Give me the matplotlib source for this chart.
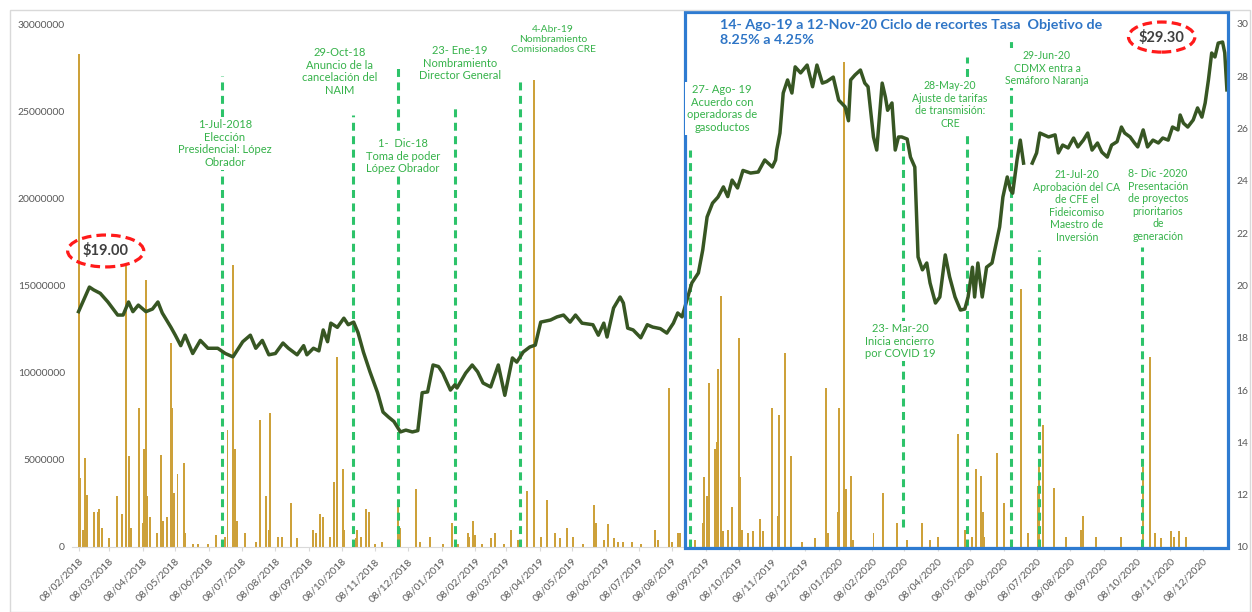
import matplotlib
matplotlib.use('Agg')
import matplotlib.pyplot as plt
import matplotlib.dates as mdates
from matplotlib.patches import Rectangle, Ellipse
import numpy as np
import pandas as pd

plt.rcParams['font.family'] = ['Lato', 'DejaVu Sans']

# precio (eje derecho)
price_dates = [
    '2018-02-08', '2018-02-18', '2018-02-22', '2018-02-28', '2018-03-07', '2018-03-16', '2018-03-21', '2018-03-26',
    '2018-03-30', '2018-04-04', '2018-04-11', '2018-04-17', '2018-04-22', '2018-04-26', '2018-05-04', '2018-05-08',
    '2018-05-13', '2018-05-17', '2018-05-24', '2018-05-31', '2018-06-07', '2018-06-16', '2018-06-23', '2018-06-30',
    '2018-07-09', '2018-07-16', '2018-07-21', '2018-07-27', '2018-08-02', '2018-08-08', '2018-08-15', '2018-08-20',
    '2018-08-28', '2018-09-03', '2018-09-06', '2018-09-12', '2018-09-17', '2018-09-21', '2018-09-25', '2018-09-28',
    '2018-10-04', '2018-10-10', '2018-10-14', '2018-10-19', '2018-10-23', '2018-10-28', '2018-11-03', '2018-11-10',
    '2018-11-15', '2018-11-20', '2018-11-25', '2018-12-01', '2018-12-06', '2018-12-12', '2018-12-17', '2018-12-21',
    '2018-12-26', '2018-12-31', '2019-01-05', '2019-01-09', '2019-01-11', '2019-01-16', '2019-01-20', '2019-01-22',
    '2019-01-30', '2019-02-05', '2019-02-10', '2019-02-15', '2019-02-22', '2019-03-01', '2019-03-07', '2019-03-14',
    '2019-03-18', '2019-03-24', '2019-03-30', '2019-04-04', '2019-04-09', '2019-04-18', '2019-04-24', '2019-04-30',
    '2019-05-06', '2019-05-11', '2019-05-17', '2019-05-27', '2019-06-01', '2019-06-06', '2019-06-09', '2019-06-15',
    '2019-06-21', '2019-06-24', '2019-06-28', '2019-07-03', '2019-07-10', '2019-07-16', '2019-07-21', '2019-07-28',
    '2019-08-03', '2019-08-09', '2019-08-13', '2019-08-17', '2019-08-22', '2019-08-26', '2019-09-01', '2019-09-05',
    '2019-09-09', '2019-09-14', '2019-09-19', '2019-09-24', '2019-09-28', '2019-10-02', '2019-10-07', '2019-10-12',
    '2019-10-19', '2019-10-26', '2019-11-01', '2019-11-08', '2019-11-11', '2019-11-12', '2019-11-15', '2019-11-18',
    '2019-11-22', '2019-11-26', '2019-11-29', '2019-12-04', '2019-12-10', '2019-12-15', '2019-12-19', '2019-12-24',
    '2019-12-28', '2020-01-03', '2020-01-08', '2020-01-14', '2020-01-17', '2020-01-19', '2020-01-23', '2020-01-28',
    '2020-02-01', '2020-02-04', '2020-02-09', '2020-02-12', '2020-02-17', '2020-02-20', '2020-02-22', '2020-02-26',
    '2020-02-29', '2020-03-03', '2020-03-06', '2020-03-11', '2020-03-14', '2020-03-18', '2020-03-21', '2020-03-25',
    '2020-03-29', '2020-04-01', '2020-04-06', '2020-04-10', '2020-04-15', '2020-04-19', '2020-04-24', '2020-04-29',
    '2020-05-03', '2020-05-06', '2020-05-10', '2020-05-12', '2020-05-15', '2020-05-19', '2020-05-23', '2020-05-28',
    '2020-06-02', '2020-06-04', '2020-06-07', '2020-06-11', '2020-06-14', '2020-06-16', '2020-06-20', '2020-06-23',
    '2020-06-26', '2020-06-30', '2020-07-04', '2020-07-08', '2020-07-11', '2020-07-19', '2020-07-25', '2020-07-28',
    '2020-08-01', '2020-08-06', '2020-08-11', '2020-08-15', '2020-08-20', '2020-08-24', '2020-08-28', '2020-09-02',
    '2020-09-06', '2020-09-11', '2020-09-15', '2020-09-20', '2020-09-24', '2020-09-27', '2020-10-02', '2020-10-06',
    '2020-10-09', '2020-10-14', '2020-10-18', '2020-10-23', '2020-10-28', '2020-11-01', '2020-11-06', '2020-11-10',
    '2020-11-15', '2020-11-17', '2020-11-20', '2020-11-24', '2020-11-29', '2020-12-03', '2020-12-07', '2020-12-10',
    '2020-12-13', '2020-12-16', '2020-12-19', '2020-12-22', '2020-12-26', '2020-12-28', '2020-12-30',
]
price_values = [
    19.0, 19.94, 19.83, 19.7, 19.37, 18.87, 18.87, 19.37,
    19.0, 19.25, 19.0, 19.1, 19.37, 18.95, 18.4, 18.1,
    17.7, 18.1, 17.4, 17.9, 17.6, 17.6, 17.4, 17.27,
    17.85, 18.1, 17.6, 17.9, 17.35, 17.4, 17.8, 17.6,
    17.35, 17.7, 17.35, 17.6, 17.5, 18.3, 17.85, 18.56,
    18.4, 18.75, 18.5, 18.6, 18.2, 17.45, 16.7, 15.9,
    15.16, 14.97, 14.8, 14.4, 14.47, 14.4, 14.45, 15.9,
    15.93, 16.96, 16.9, 16.65, 16.46, 16.0, 16.2, 16.08,
    16.65, 16.96, 16.7, 16.27, 16.12, 16.96, 15.8, 17.23,
    17.07, 17.46, 17.65, 17.72, 18.6, 18.68, 18.8, 18.87,
    18.6, 18.87, 18.56, 18.5, 18.1, 18.56, 18.03, 19.14,
    19.56, 19.33, 18.37, 18.3, 18.0, 18.5, 18.41, 18.35,
    18.18, 18.56, 18.95, 18.8, 19.52, 20.1, 20.48, 21.36,
    22.62, 23.15, 23.38, 23.77, 23.4, 24.03, 23.73, 24.4,
    24.3, 24.34, 24.8, 24.53, 24.8, 25.18, 25.83, 27.36,
    27.86, 27.36, 28.36, 28.13, 28.43, 27.6, 28.43, 27.74,
    27.8, 27.97, 27.09, 26.83, 26.3, 27.86, 28.05, 28.24,
    27.74, 27.6, 25.68, 25.18, 27.74, 27.2, 26.7, 26.98,
    25.18, 25.68, 25.68, 25.6, 24.91, 24.53, 21.09, 20.6,
    20.86, 20.1, 19.33, 19.56, 21.17, 20.33, 19.56, 19.06,
    19.1, 19.56, 20.7, 19.56, 20.86, 19.56, 20.7, 20.86,
    21.85, 22.24, 23.38, 24.15, 23.65, 23.53, 24.8, 25.56,
    24.68, np.nan, 24.68, 25.07, 25.83, 25.68, 25.76, 25.07,
    25.37, 25.26, 25.64, 25.3, 25.56, 25.83, 25.18, 25.45,
    25.1, 24.91, 25.37, 25.5, 26.06, 25.83, 25.68, 25.45,
    25.3, 25.95, 25.3, 25.56, 25.45, 25.64, 25.56, 26.06,
    25.95, 26.52, 26.21, 26.06, 26.33, 26.79, 26.44, 26.98,
    27.86, 28.89, 28.74, 29.27, 29.31, 28.9, 27.48,
]

# volumen (eje izquierdo), millones
vol_dates = [
    '2018-02-08', '2018-02-09', '2018-02-12', '2018-02-14', '2018-02-16', '2018-02-22', '2018-02-26', '2018-02-27',
    '2018-03-02', '2018-03-08', '2018-03-15', '2018-03-20', '2018-03-24', '2018-03-26', '2018-03-28', '2018-04-05',
    '2018-04-08', '2018-04-09', '2018-04-11', '2018-04-12', '2018-04-15', '2018-04-21', '2018-04-25', '2018-04-27',
    '2018-04-30', '2018-05-04', '2018-05-05', '2018-05-07', '2018-05-10', '2018-05-16', '2018-05-17', '2018-05-24',
    '2018-05-29', '2018-06-07', '2018-06-14', '2018-06-23', '2018-06-25', '2018-06-30', '2018-07-02', '2018-07-04',
    '2018-07-11', '2018-07-21', '2018-07-25', '2018-07-30', '2018-08-02', '2018-08-03', '2018-08-10', '2018-08-14',
    '2018-08-22', '2018-08-28', '2018-09-12', '2018-09-14', '2018-09-18', '2018-09-21', '2018-09-27', '2018-10-01',
    '2018-10-04', '2018-10-09', '2018-10-10', '2018-10-21', '2018-10-22', '2018-10-26', '2018-10-30', '2018-11-02',
    '2018-11-08', '2018-11-14', '2018-11-29', '2018-12-01', '2018-12-15', '2018-12-19', '2018-12-28', '2019-01-09',
    '2019-01-17', '2019-01-23', '2019-02-01', '2019-02-02', '2019-02-06', '2019-02-08', '2019-02-14', '2019-02-22',
    '2019-02-26', '2019-03-06', '2019-03-13', '2019-03-19', '2019-03-27', '2019-04-03', '2019-04-09', '2019-04-15',
    '2019-04-22', '2019-04-27', '2019-05-03', '2019-05-09', '2019-05-18', '2019-05-28', '2019-05-30', '2019-06-06',
    '2019-06-10', '2019-06-15', '2019-06-19', '2019-06-24', '2019-07-02', '2019-07-10', '2019-07-23', '2019-07-26',
    '2019-08-05', '2019-08-08', '2019-08-13', '2019-08-15', '2019-08-29', '2019-09-05', '2019-09-06', '2019-09-09',
    '2019-09-11', '2019-09-16', '2019-09-18', '2019-09-19', '2019-09-22', '2019-09-24', '2019-09-28', '2019-10-02',
    '2019-10-08', '2019-10-09', '2019-10-11', '2019-10-17', '2019-10-21', '2019-10-28', '2019-10-30', '2019-11-08',
    '2019-11-13', '2019-11-14', '2019-11-20', '2019-11-25', '2019-12-05', '2019-12-17', '2019-12-27', '2019-12-29',
    '2020-01-07', '2020-01-08', '2020-01-13', '2020-01-15', '2020-01-19', '2020-01-21', '2020-02-09', '2020-02-18',
    '2020-03-02', '2020-03-11', '2020-03-25', '2020-04-01', '2020-04-08', '2020-04-27', '2020-05-03', '2020-05-10',
    '2020-05-13', '2020-05-18', '2020-05-20', '2020-05-21', '2020-06-02', '2020-06-08', '2020-06-24', '2020-06-30',
    '2020-07-09', '2020-07-10', '2020-07-14', '2020-07-24', '2020-08-04', '2020-08-18', '2020-08-20', '2020-09-01',
    '2020-09-24', '2020-10-14', '2020-10-20', '2020-10-25', '2020-10-30', '2020-11-09', '2020-11-11', '2020-11-16',
    '2020-11-22',
]
vol_millions = [
    28.3, 3.96, 1.0, 5.1, 3.0, 2.0, 2.0, 2.2,
    1.1, 0.5, 2.9, 1.9, 16.3, 5.2, 1.1, 8.0,
    1.4, 5.6, 15.3, 2.9, 1.7, 0.8, 5.3, 1.5,
    1.7, 11.7, 8.0, 3.1, 4.2, 4.8, 0.8, 0.2,
    0.15, 0.2, 0.7, 0.6, 6.7, 16.2, 5.6, 1.5,
    0.8, 0.3, 7.3, 2.9, 1.0, 7.7, 0.6, 0.6,
    2.5, 0.5, 1.0, 0.8, 1.9, 1.7, 0.6, 3.7,
    10.9, 4.5, 1.0, 0.5, 1.0, 0.6, 2.2, 2.0,
    0.2, 0.3, 2.3, 1.1, 3.3, 0.3, 0.6, 0.15,
    1.4, 0.15, 0.8, 0.6, 1.5, 0.7, 0.2, 0.5,
    0.8, 0.15, 1.0, 0.4, 3.2, 26.8, 0.6, 2.7,
    0.8, 0.5, 1.1, 0.6, 0.15, 2.4, 1.4, 0.4,
    1.3, 0.5, 0.3, 0.3, 0.3, 0.2, 1.0, 0.4,
    9.1, 0.3, 0.8, 0.8, 0.4, 1.4, 4.0, 2.9,
    9.4, 5.6, 6.0, 10.2, 14.4, 0.9, 1.0, 2.3,
    12.0, 4.0, 1.0, 0.8, 0.9, 1.6, 0.9, 8.0,
    1.8, 7.6, 11.1, 5.2, 0.3, 0.5, 9.1, 0.8,
    2.0, 8.0, 27.8, 3.3, 4.1, 0.4, 0.8, 3.1,
    1.4, 0.4, 1.4, 0.4, 0.6, 6.5, 1.0, 0.6,
    4.5, 4.1, 2.0, 0.6, 5.4, 2.5, 14.8, 0.8,
    3.5, 4.7, 7.0, 3.4, 0.6, 1.0, 1.8, 0.6,
    0.6, 4.6, 10.9, 0.8, 0.5, 0.9, 0.6, 0.9,
    0.6,
]

tick_labels = [
    '08/02/2018', '08/03/2018', '08/04/2018', '08/05/2018', '08/06/2018', '08/07/2018', '08/08/2018', '08/09/2018',
    '08/10/2018', '08/11/2018', '08/12/2018', '08/01/2019', '08/02/2019', '08/03/2019', '08/04/2019', '08/05/2019',
    '08/06/2019', '08/07/2019', '08/08/2019', '08/09/2019', '08/10/2019', '08/11/2019', '08/12/2019', '08/01/2020',
    '08/02/2020', '08/03/2020', '08/04/2020', '08/05/2020', '08/06/2020', '08/07/2020', '08/08/2020', '08/09/2020',
    '08/10/2020', '08/11/2020', '08/12/2020',
]

# eventos: fecha donde va la linea punteada y texto
event_dates = ['2018-06-20', '2018-10-18', '2018-11-29', '2019-01-20', '2019-03-21', '2019-08-24',
               '2020-03-07', '2020-05-05', '2020-06-14', '2020-07-10', '2020-10-13']
event_texts = [
    '1-Jul-2018\nElección\nPresidencial: López\nObrador',
    '29-Oct-18\nAnuncio de la\ncancelación del\nNAIM',
    '1-  Dic-18\nToma de poder\nLópez Obrador',
    '23- Ene-19\nNombramiento\nDirector General',
    '4-Abr-19\nNombramiento\nComisionados CRE',
    '27- Ago- 19\nAcuerdo con\noperadoras de\ngasoductos',
    '23- Mar-20\nInicia encierro\npor COVID 19',
    '28-May-20\nAjuste de tarifas\nde transmisión:\nCRE',
    '29-Jun-20\nCDMX entra a\nSemáforo Naranja',
    '21-Jul-20\nAprobación del CA\nde CFE el\nFideicomiso\nMaestro de\nInversión',
    '8- Dic -2020\nPresentación\nde proyectos\nprioritarios\nde\ngeneración',
]
# (x px, y px arriba) del texto, y extremos de la linea en fraccion del eje
text_pos = [(225, 119), (340, 47), (403, 138), (460, 45), (553, 25), (722, 84),
            (900, 323), (950, 80), (1047, 50), (1077, 169), (1158, 168)]
text_size = [8, 8, 8, 8, 7.4, 8, 8, 7.6, 7.6, 7.6, 7.6]
line_span = [(0, 0.90), (0, 0.826), (0, 0.916), (0, 0.839), (0, 0.893), (0, 0.759),
             (0.038, 0.784), (0, 0.937), (0, 0.969), (0, 0.568), (0, 0.574)]

W, H = 1252, 612
fig = plt.figure(figsize=(W / 100, H / 100), dpi=100)
ax = fig.add_axes([72 / W, 65 / H, (1228 - 72) / W, (547 - 24) / H])
ax2 = ax.twinx()

green = '#2dc36a'
txt_green = '#35b249'
gray = '#595959'

vd = pd.to_datetime(vol_dates)
ax.bar(vd, np.array(vol_millions) * 1e6, width=1.8, color='#cda13a', zorder=1)
ax.set_ylim(0, 30000000)
ax.set_yticks(range(0, 30000001, 5000000))
ax.set_yticklabels([str(v) for v in range(0, 30000001, 5000000)])
ax.set_xlim(pd.Timestamp('2018-02-02'), pd.Timestamp('2020-12-31'))

pdts = pd.to_datetime(price_dates)
ax2.plot(pdts, price_values, color='#375623', lw=2.5, zorder=5, solid_joinstyle='round')
ax2.set_ylim(10, 30)
ax2.set_yticks(range(10, 31, 2))

ticks = pd.to_datetime(tick_labels, format='%d/%m/%Y')
ax.set_xticks(ticks)
ax.set_xticklabels(tick_labels, rotation=45, ha='right', rotation_mode='anchor')

for a in (ax, ax2):
    for s in a.spines.values():
        s.set_visible(False)
    a.tick_params(axis='y', length=0, labelsize=7.5, labelcolor=gray)
ax.spines['bottom'].set_visible(True)
ax.spines['bottom'].set_color('#d9d9d9')
ax.tick_params(axis='x', length=3, color='#d9d9d9', labelsize=7.5, labelcolor=gray, pad=4)
ax.tick_params(axis='y', pad=5)
ax2.tick_params(axis='y', pad=6)

# lineas de eventos
for d, (y0, y1) in zip(event_dates, line_span):
    ax2.axvline(pd.Timestamp(d), ymin=y0, ymax=y1, color=green, lw=2.2,
                ls=(0, (2.6, 1.8)), zorder=3)

for t, (px, py), fs in zip(event_texts, text_pos, text_size):
    fig.text(px / W, 1 - py / H, t, ha='center', va='top', fontsize=fs, color=txt_green,
             linespacing=1.17, zorder=10,
             bbox=dict(boxstyle='square,pad=0.2', fc='white', ec='none'))

# recuadro del ciclo de recortes
xform = ax2.get_xaxis_transform()
x0 = mdates.date2num(pd.Timestamp('2019-08-20'))
x1 = mdates.date2num(pd.Timestamp('2020-12-31'))
ax2.add_patch(Rectangle((x0, -0.002), x1 - x0, 1.025, transform=xform, fill=False,
                        ec='#2e7bd1', lw=2.3, clip_on=False, zorder=6))
fig.text(720 / W, 1 - 19 / H,
         '14- Ago-19 a 12-Nov-20 Ciclo de recortes Tasa  Objetivo de\n8.25% a 4.25%',
         ha='left', va='top', fontsize=10.3, fontweight='bold', color='#2e75c6', linespacing=1.25)

# precios destacados
for dt, price, label, w, h in [('2018-03-05', 21.32, '$19.00', 70, 1.22),
                               ('2020-10-31', 29.5, '$29.30', 61, 1.15)]:
    c = mdates.date2num(pd.Timestamp(dt))
    ax2.add_patch(Ellipse((c, price), w, h, fill=False, ec='#ff1a1a', lw=2.3,
                          ls=(0, (3, 1.6)), clip_on=False, zorder=7))
    ax2.text(c, price, label, ha='center', va='center', fontsize=10.5, fontweight='bold',
             color='#3f3f3f', zorder=8)

# borde del area de grafico
fig.add_artist(Rectangle((10 / W, 0), (W - 12) / W, 1 - 10 / H, transform=fig.transFigure,
                         fill=False, ec='#d9d9d9', lw=1))

fig.savefig('out.png', dpi=100)
